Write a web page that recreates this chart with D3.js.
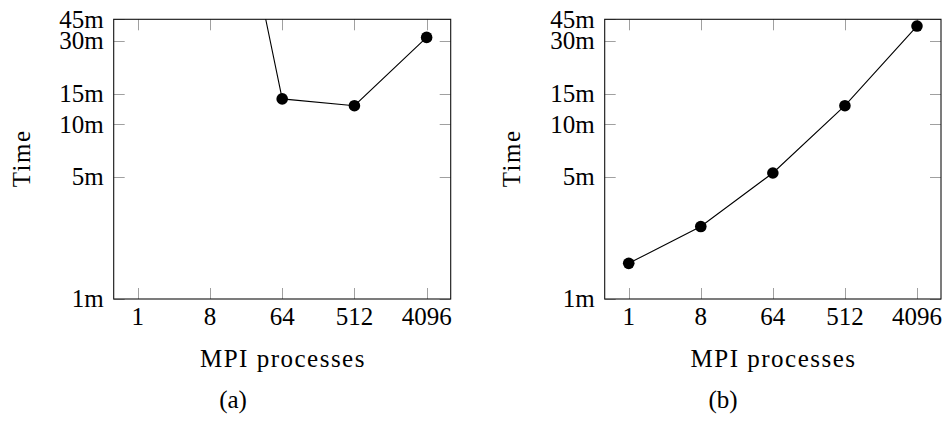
<!DOCTYPE html>
<html><head><meta charset="utf-8">
<script src="https://cdn.jsdelivr.net/npm/d3@7"></script>
<style>body{margin:0;background:#fff}svg{display:block}</style>
</head><body>
<svg id="c" width="945" height="421"></svg>
<script>
// ---- data ----
const xTickValues = [1, 8, 64, 512, 4096];
const xTickLabels = ["1", "8", "64", "512", "4096"];
const yTickValues = [1, 5, 10, 15, 30, 40];
const yTickLabels = ["1m", "5m", "10m", "15m", "30m", "45m"];
const procsA = [8, 64, 512, 4096];
const timeA = [1400, 14.0, 12.8, 31.5];
const procsB = [1, 8, 64, 512, 4096];
const timeB = [1.6, 2.6, 5.27, 12.8, 36.6];
const captions = ["(a)", "(b)"];
const xTitle = "MPI processes";
const yTitle = "Time";

(function () {
const svg = d3.select("#c");
const font = "'Liberation Serif', 'DejaVu Serif', serif";

const panels = [
  {left: 113.7, right: 450.7, xs: procsA, ys: timeA, cap: captions[0], capX: 233, titleX: 21.7},
  {left: 604.7, right: 941, xs: procsB, ys: timeB, cap: captions[1], capX: 723, titleX: 511.7}
];
const plotTop = 19.3, plotBottom = 299;

panels.forEach((p, i) => {
  const x = d3.scaleLog().base(2).domain([0.5, 8192]).range([p.left, p.right]);
  const y = d3.scaleLog().domain([1, 40]).range([plotBottom, plotTop]);
  const g = svg.append("g");
  const clipId = "clip" + i;
  svg.append("clipPath").attr("id", clipId).append("rect")
    .attr("x", p.left).attr("y", plotTop).attr("width", p.right - p.left).attr("height", plotBottom - plotTop);

  const tl = 11;
  const tickG = g.append("g").attr("stroke", "#a0a0a0").attr("stroke-width", 1);
  xTickValues.forEach(v => {
    const xx = Math.round(x(v)) + 0.5;
    tickG.append("line").attr("x1", xx).attr("x2", xx).attr("y1", plotBottom).attr("y2", plotBottom - tl);
    tickG.append("line").attr("x1", xx).attr("x2", xx).attr("y1", plotTop).attr("y2", plotTop + tl);
  });
  yTickValues.forEach(v => {
    const yy = Math.round(y(v)) + 0.5;
    tickG.append("line").attr("x1", p.left).attr("x2", p.left + tl).attr("y1", yy).attr("y2", yy);
    tickG.append("line").attr("x1", p.right).attr("x2", p.right - tl).attr("y1", yy).attr("y2", yy);
  });

  g.append("rect").attr("x", p.left).attr("y", plotTop)
    .attr("width", p.right - p.left).attr("height", plotBottom - plotTop)
    .attr("fill", "none").attr("stroke", "#111").attr("stroke-width", 1.1);

  xTickValues.forEach((v, k) => {
    g.append("text").attr("x", x(v)).attr("y", 325).attr("text-anchor", "middle")
      .attr("font-family", font).attr("font-size", 25).text(xTickLabels[k]);
  });
  yTickValues.forEach((v, k) => {
    g.append("text").attr("x", p.left - 10).attr("y", y(v)).attr("dy", "0.33em")
      .attr("text-anchor", "end").attr("font-family", font).attr("font-size", 25).text(yTickLabels[k]);
  });

  g.append("text").attr("x", (p.left + p.right) / 2 + 0.75).attr("y", 367).attr("text-anchor", "middle")
    .attr("font-family", font).attr("font-size", 25).attr("letter-spacing", 1.5).text(xTitle);
  g.append("text").attr("transform", `translate(${p.titleX + 8},${(plotTop + plotBottom) / 2 - 0.75}) rotate(-90)`)
    .attr("text-anchor", "middle").attr("font-family", font).attr("font-size", 25).attr("letter-spacing", 1.5).text(yTitle);
  g.append("text").attr("x", p.capX).attr("y", 408).attr("text-anchor", "middle")
    .attr("font-family", font).attr("font-size", 25).text(p.cap);

  const pts = p.xs.map((v, k) => [v, p.ys[k]]);
  const line = d3.line().x(d => x(d[0])).y(d => y(d[1]));
  const dg = svg.append("g").attr("clip-path", `url(#${clipId})`);
  dg.append("path").attr("d", line(pts)).attr("fill", "none").attr("stroke", "#000").attr("stroke-width", 1.1);
  svg.append("g").selectAll("circle").data(pts.filter(d => y(d[1]) >= plotTop - 1)).join("circle")
    .attr("cx", d => x(d[0])).attr("cy", d => y(d[1])).attr("r", 5.8).attr("fill", "#000");
});
})();
</script>
</body></html>
